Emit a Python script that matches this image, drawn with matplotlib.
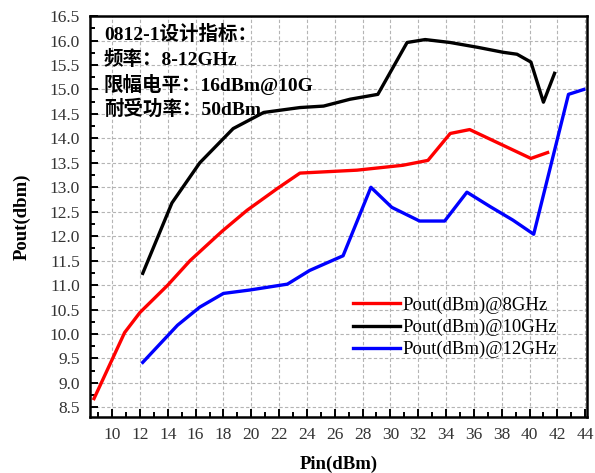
import matplotlib
matplotlib.use('Agg')
import matplotlib.pyplot as plt
from matplotlib.ticker import MultipleLocator, FormatStrFormatter

pin_8g = [8.7, 10.9, 12.0, 14.0, 15.6, 17.9, 19.7, 21.9, 23.5, 27.6, 30.9, 32.7, 34.3, 35.7, 40.1, 41.3]
pout_8g = [8.68, 10.03, 10.44, 11.0, 11.5, 12.1, 12.53, 12.98, 13.29, 13.35, 13.45, 13.55, 14.1, 14.18, 13.59, 13.71]

pin_10g = [12.2, 14.3, 16.3, 18.7, 20.9, 23.5, 25.2, 27.1, 29.1, 31.2, 32.5, 34.3, 36.3, 38.1, 39.1, 40.1, 41.0, 41.8]
pout_10g = [11.24, 12.68, 13.5, 14.2, 14.53, 14.63, 14.66, 14.8, 14.9, 15.96, 16.02, 15.96, 15.86, 15.76, 15.72, 15.56, 14.74, 15.33]

pin_12g = [12.2, 14.7, 16.3, 18.0, 19.9, 22.6, 24.2, 26.6, 28.6, 30.1, 32.1, 33.9, 35.5, 37.2, 38.8, 40.3, 42.8, 43.9]
pout_12g = [9.42, 10.18, 10.55, 10.83, 10.9, 11.02, 11.3, 11.6, 13.0, 12.59, 12.31, 12.31, 12.9, 12.6, 12.33, 12.04, 14.9, 15.0]

labels = ['Pout(dBm)@8GHz', 'Pout(dBm)@10GHz', 'Pout(dBm)@12GHz']
notes = ['0812-1设计指标：', '频率：8-12GHz', '限幅电平：16dBm@10G', '耐受功率：50dBm']

serif = ['Liberation Serif', 'Noto Sans CJK SC', 'DejaVu Serif']
plt.rcParams['font.family'] = serif

fig = plt.figure(figsize=(5.95, 4.73), dpi=100)
ax = fig.add_axes([0.151, 0.118, 0.836, 0.848])

ax.plot(pin_8g, pout_8g, color='#ff0000', lw=2.4, label=labels[0])
ax.plot(pin_10g, pout_10g, color='black', lw=2.4, label=labels[1])
ax.plot(pin_12g, pout_12g, color='#0000ff', lw=2.4, label=labels[2])

ax.set_xlim(8.4, 44.15)
ax.set_ylim(8.3, 16.5)
ax.xaxis.set_major_locator(MultipleLocator(2))
ax.xaxis.set_minor_locator(MultipleLocator(1))
ax.yaxis.set_major_locator(MultipleLocator(0.5))
ax.yaxis.set_minor_locator(MultipleLocator(0.25))
ax.yaxis.set_major_formatter(FormatStrFormatter('%.1f'))
ax.tick_params(which='both', direction='in', top=False, right=False, labelsize=12.5, width=1.4,
               labelcolor='#333333')
ax.tick_params(which='major', length=6, pad=7)
ax.tick_params(which='minor', length=3.5)
ax.grid(True, which='major', ls=(0, (3, 2)), color='#b4b4b4', lw=0.8)
for s in ax.spines.values():
    s.set_linewidth(1.8)

ax.set_xlabel('Pin(dBm)', fontsize=13.5, fontweight='bold', labelpad=9)
ax.set_ylabel('Pout(dbm)', fontsize=13.5, fontweight='bold', labelpad=14)

ys = [0.955, 0.892, 0.830, 0.768]
for t, y in zip(notes, ys):
    ax.text(0.028, y, t, transform=ax.transAxes, fontsize=14, fontweight='bold',
            va='center', ha='left', family=serif)

ax.legend(loc='lower right', bbox_to_anchor=(0.955, 0.128), frameon=False, fontsize=13.5,
          handlelength=2.5, handletextpad=0.15, labelspacing=0.26, borderaxespad=0)

fig.savefig('out.png', dpi=100)
